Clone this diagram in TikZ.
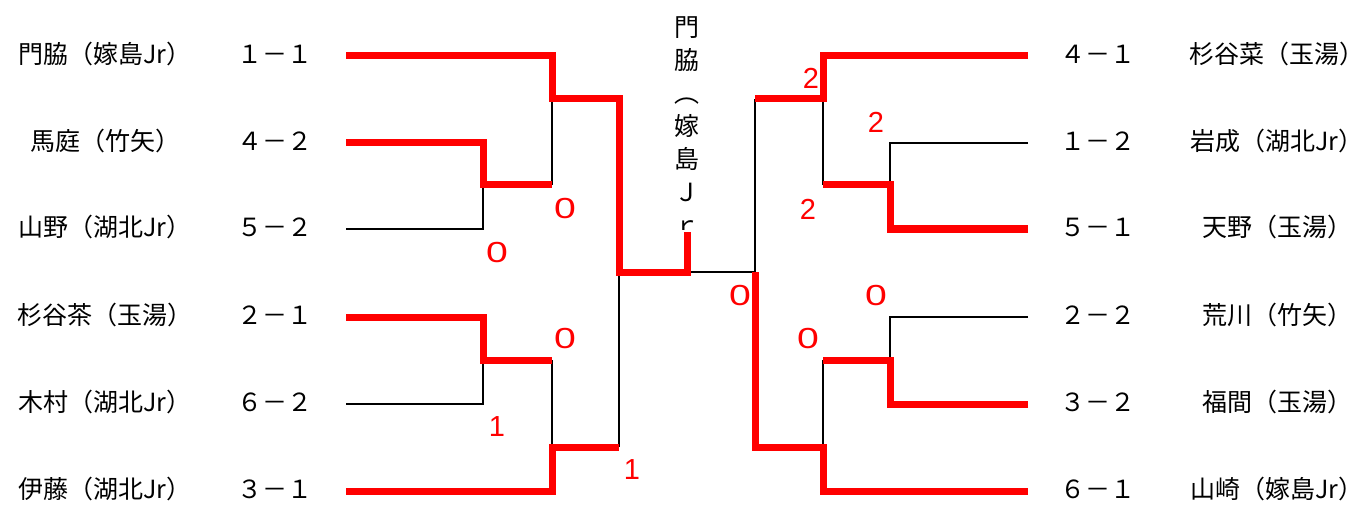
\documentclass[tikz,border=0pt]{standalone}
\usepackage{fontspec}
\setmainfont{Noto Sans CJK JP}
\newfontfamily\latinfont{Liberation Sans}
\usepackage{tikz}
\usetikzlibrary{positioning, calc}
\tikzset{
	x=1pt, y=-1pt,
	every node/.style={inner sep=0pt, font=\fontsize{25}{30}\selectfont},
	win/.style={red, line width=7pt, line join=miter},
	lose/.style={black, line width=2.5pt},
	gamept/.style={red, font=\latinfont\fontsize{29}{32}\selectfont},
}
\newcommand{\zero}{\scalebox{1.35}[1]{0}}

\begin{document}
\begin{tikzpicture}
			
			\useasboundingbox[fill=white] (0,0) rectangle (1365,505);
			
			\node (p1) at (105,54) {門脇（嫁島Jr）};
			\node (p2) at (105,141) {馬庭（竹矢）};
			\node (p3) at (105,227) {山野（湖北Jr）};
			\node (p4) at (105,315) {杉谷茶（玉湯）};
			\node (p5) at (105,402) {木村（湖北Jr）};
			\node (p6) at (105,489) {伊藤（湖北Jr）};
			\node (s1) at (275,54) {１－１};
			\node (s2) at (275,141) {４－２};
			\node (s3) at (275,227) {５－２};
			\node (s4) at (275,315) {２－１};
			\node (s5) at (275,402) {６－２};
			\node (s6) at (275,489) {３－１};
			
			\node (q1) at (1277,54) {杉谷菜（玉湯）};
			\node (q2) at (1277,141) {岩成（湖北Jr）};
			\node (q3) at (1277,227) {天野（玉湯）};
			\node (q4) at (1277,315) {荒川（竹矢）};
			\node (q5) at (1277,402) {福間（玉湯）};
			\node (q6) at (1277,489) {山崎（嫁島Jr）};
			\node (t1) at (1098,54) {４－１};
			\node (t2) at (1098,141) {１－２};
			\node (t3) at (1098,227) {５－１};
			\node (t4) at (1098,315) {２－２};
			\node (t5) at (1098,402) {３－２};
			\node (t6) at (1098,489) {６－１};
			
			\begin{scope}
				\clip (640,0) rectangle (740,229);
				\node[anchor=north, align=center, font=\fontsize{25}{33}\selectfont] (CHAMP) at (687,16) {門\\脇\\︵\\嫁\\島\\Ｊ\\ｒ};
			\end{scope}
			
			\coordinate (a1) at (346,56);
			\coordinate (a2) at (346,143);
			\coordinate (a3) at (346,229);
			\coordinate (a4) at (346,317);
			\coordinate (a5) at (346,404);
			\coordinate (a6) at (346,491);
			\coordinate (m2) at (483,185);
			\coordinate (m5) at (483,360);
			\coordinate (n1) at (552,99);
			\coordinate (n2) at (552,447);
			\coordinate (k) at (619,272);
			\coordinate (c) at (687,272);
			\coordinate (ctop) at (687,232);
			
			\coordinate (b1) at (1028,56);
			\coordinate (b2) at (1028,143);
			\coordinate (b3) at (1028,229);
			\coordinate (b4) at (1028,317);
			\coordinate (b5) at (1028,404);
			\coordinate (b6) at (1028,491);
			\coordinate (r2) at (890,185);
			\coordinate (r5) at (890,360);
			\coordinate (o1) at (823,99);
			\coordinate (o2) at (823,447);
			\coordinate (rk) at (755,272);
			
			% losers
			\draw[lose] (a3) -| (m2);
			\draw[lose] (m2 -| n1) -- (n1);
			\draw[lose] (a5) -| (m5);
			\draw[lose] (m5 -| n2) -- (n2);
			\draw[lose] (n2 -| k) -- (k);
			\draw[lose] (c) -- (rk);
			\draw[lose] (o1 -| rk) -- (rk);
			\draw[lose] (b2) -| (r2);
			\draw[lose] (r2 -| o1) -- (o1);
			\draw[lose] (b4) -| (r5);
			\draw[lose] (r5 -| o2) -- (o2);
			
			% winners
			\draw[win] (a1) -| (n1) -| (k) -- (c) -- (ctop);
			\draw[win] (a2) -| (m2) -- (m2 -| n1);
			\draw[win] (a4) -| (m5) -- (m5 -| n2);
			\draw[win] (a6) -| (n2) -- (n2 -| k);
			\draw[win] (b1) -| (o1) -- (o1 -| rk);
			\draw[win] (b3) -| (r2) -- (r2 -| o1);
			\draw[win] (b5) -| (r5) -- (r5 -| o2);
			\draw[win] (b6) -| (o2) -| (rk);
			
			\node[gamept] (g1) at (565,209) {\zero};
			\node[gamept] (g2) at (497,253) {\zero};
			\node[gamept] (g3) at (565,339) {\zero};
			\node[gamept] (g4) at (497,427) {1};
			\node[gamept] (g5) at (632,470) {1};
			\node[gamept] (h1) at (811,78) {2};
			\node[gamept] (h2) at (876,122) {2};
			\node[gamept] (h3) at (808,209) {2};
			\node[gamept] (h4) at (740,296) {\zero};
			\node[gamept] (h5) at (876,296) {\zero};
			\node[gamept] (h6) at (808,339) {\zero};
			
		\end{tikzpicture}
\end{document}
